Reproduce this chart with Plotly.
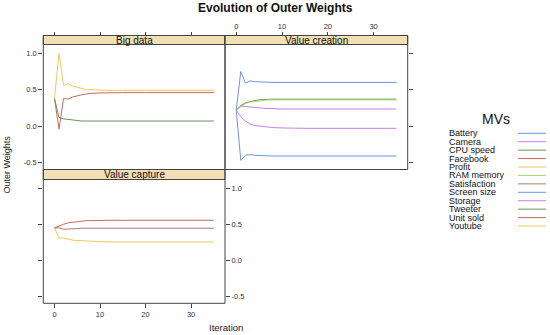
import plotly.graph_objects as go

# ---------------- data ----------------
iterations = [0, 1, 2, 3, 4, 5, 6, 7, 8, 10, 12, 15, 20, 25, 30, 35]

mv_names = ["Battery", "Camera", "CPU speed", "Facebook", "Profit", "RAM memory",
            "Satisfaction", "Screen size", "Storage", "Tweeter", "Unit sold", "Youtube"]
mv_blocks = ["Value creation", "Value creation", "Value creation", "Big data",
             "Value capture", "Value creation", "Value capture", "Value creation",
             "Value creation", "Big data", "Value capture", "Big data"]

battery      = [0.22, 0.75, 0.59, 0.62, 0.61, 0.605, 0.60, 0.60, 0.60, 0.60, 0.60, 0.60, 0.60, 0.60, 0.60, 0.60]
camera       = [0.22, 0.275, 0.27, 0.26, 0.255, 0.25, 0.245, 0.24, 0.24, 0.235, 0.235, 0.235, 0.235, 0.235, 0.235, 0.235]
cpu_speed    = [0.22, 0.28, 0.32, 0.34, 0.35, 0.36, 0.365, 0.37, 0.37, 0.37, 0.37, 0.37, 0.37, 0.37, 0.37, 0.37]
facebook     = [0.38, -0.04, 0.38, 0.37, 0.40, 0.42, 0.43, 0.44, 0.45, 0.455, 0.46, 0.46, 0.46, 0.46, 0.46, 0.46]
profit       = [0.45, 0.31, 0.31, 0.29, 0.28, 0.275, 0.27, 0.265, 0.26, 0.26, 0.255, 0.255, 0.255, 0.255, 0.255, 0.255]
ram_memory   = [0.22, 0.27, 0.31, 0.33, 0.34, 0.35, 0.355, 0.36, 0.36, 0.36, 0.36, 0.36, 0.36, 0.36, 0.36, 0.36]
satisfaction = [0.45, 0.45, 0.43, 0.43, 0.44, 0.44, 0.445, 0.445, 0.445, 0.445, 0.445, 0.445, 0.445, 0.445, 0.445, 0.445]
screen_size  = [0.22, -0.47, -0.40, -0.39, -0.40, -0.405, -0.41, -0.41, -0.41, -0.41, -0.41, -0.41, -0.41, -0.41, -0.41, -0.41]
storage      = [0.22, 0.13, 0.07, 0.03, 0.01, 0.0, -0.01, -0.015, -0.02, -0.025, -0.03, -0.03, -0.03, -0.03, -0.03, -0.03]
tweeter      = [0.38, 0.12, 0.10, 0.09, 0.08, 0.075, 0.07, 0.07, 0.07, 0.07, 0.07, 0.07, 0.07, 0.07, 0.07, 0.07]
unit_sold    = [0.45, 0.48, 0.50, 0.52, 0.53, 0.54, 0.545, 0.55, 0.55, 0.555, 0.555, 0.555, 0.555, 0.555, 0.555, 0.555]
youtube      = [0.38, 1.00, 0.56, 0.58, 0.55, 0.53, 0.51, 0.50, 0.50, 0.49, 0.49, 0.49, 0.49, 0.49, 0.49, 0.49]

weights = [battery, camera, cpu_speed, facebook, profit, ram_memory,
           satisfaction, screen_size, storage, tweeter, unit_sold, youtube]

x_ticks = [0, 10, 20, 30]
y_ticks = [-0.5, 0.0, 0.5, 1.0]
y_tick_text = ["-0.5", "0.0", "0.5", "1.0"]

palette = ["#6f92e8", "#c57eea", "#6d8f5a", "#c46c58", "#ecc95e", "#acd36e", "#a57b6c"]

# ---------------- layout geometry (pixels) ----------------
W, H = 550, 335
def px(v): return v / W
def py(v): return 1 - v / H

XL0, XL1, XR1 = 43.3, 225.0, 407.7
ST_TOP, P_TOP, P_MID, ST2_BOT, P_BOT = 35.5, 44.5, 169.5, 179.5, 303.3

xr = [-2.45, 37.45]
yr = [-0.595, 1.12]
FONT = "Liberation Sans, Arial, Helvetica, sans-serif"
AX_COL = "#444444"

panel_axes = {"Big data": ("x", "y"), "Value creation": ("x2", "y2"), "Value capture": ("x3", "y3")}

fig = go.Figure()
for i, (name, block, vals) in enumerate(zip(mv_names, mv_blocks, weights)):
    xa, ya = panel_axes[block]
    fig.add_trace(go.Scatter(x=iterations, y=vals, mode="lines", name=name,
                             xaxis=xa, yaxis=ya, showlegend=False,
                             line=dict(color=palette[i % len(palette)], width=1)))
# dummy trace so the right-hand y axis of the bottom panel is drawn
fig.add_trace(go.Scatter(x=[None], y=[None], xaxis="x3", yaxis="y4", showlegend=False, hoverinfo="skip"))

common = dict(showgrid=False, zeroline=False, showline=False, ticks="outside", ticklen=4,
              tickwidth=1, tickcolor=AX_COL, tickfont=dict(family=FONT, size=7.5, color="#333333"))
xcommon = dict(common, range=xr, tickvals=x_ticks)
ycommon = dict(common, range=yr, tickvals=y_ticks, ticktext=y_tick_text)

fig.update_layout(
    width=W, height=H, autosize=False,
    margin=dict(l=0, r=0, t=0, b=0),
    paper_bgcolor="white", plot_bgcolor="white",
    font=dict(family=FONT, color="#222222"),
    xaxis=dict(xcommon, domain=[px(XL0), px(XL1)], anchor="free", position=py(ST_TOP), side="top", showticklabels=False),
    yaxis=dict(ycommon, domain=[py(P_MID), py(P_TOP)], anchor="x", side="left"),
    xaxis2=dict(xcommon, domain=[px(XL1), px(XR1)], anchor="free", position=py(ST_TOP), side="top"),
    yaxis2=dict(ycommon, domain=[py(P_MID), py(P_TOP)], anchor="x2", side="right", showticklabels=False),
    xaxis3=dict(xcommon, domain=[px(XL0), px(XL1)], anchor="y3", side="bottom"),
    yaxis3=dict(ycommon, domain=[py(P_BOT), py(ST2_BOT)], anchor="x3", side="left", showticklabels=False),
    yaxis4=dict(ycommon, overlaying="y3", anchor="x3", side="right"),
)

shapes = []
annotations = []
strip_fill = "#f3dfb4"
panels = [("Big data", XL0, XL1, ST_TOP, P_TOP, P_MID),
          ("Value creation", XL1, XR1, ST_TOP, P_TOP, P_MID),
          ("Value capture", XL0, XL1, P_MID, ST2_BOT, P_BOT)]
for label, x0, x1, s0, s1, b in panels:
    shapes.append(dict(type="rect", xref="paper", yref="paper", x0=px(x0), x1=px(x1), y0=py(s1), y1=py(s0),
                       fillcolor=strip_fill, line=dict(color=AX_COL, width=1)))
    shapes.append(dict(type="rect", xref="paper", yref="paper", x0=px(x0), x1=px(x1), y0=py(b), y1=py(s0),
                       fillcolor="rgba(0,0,0,0)", line=dict(color=AX_COL, width=1)))
    annotations.append(dict(text=label, xref="paper", yref="paper", x=px((x0 + x1) / 2), y=py((s0 + s1) / 2),
                            showarrow=False, xanchor="center", yanchor="middle",
                            font=dict(family=FONT, size=10, color="#111111")))

# titles
annotations.append(dict(text="<b>Evolution of Outer Weights</b>", xref="paper", yref="paper",
                        x=px(275), y=py(8), showarrow=False, xanchor="center", yanchor="middle",
                        font=dict(family=FONT, size=12, color="#111111")))
annotations.append(dict(text="Iteration", xref="paper", yref="paper", x=px(225.5), y=py(327.5),
                        showarrow=False, xanchor="center", yanchor="middle",
                        font=dict(family=FONT, size=9.5, color="#222222")))
annotations.append(dict(text="Outer Weights", xref="paper", yref="paper", x=px(6.5), y=py(165),
                        showarrow=False, xanchor="center", yanchor="middle", textangle=-90,
                        font=dict(family=FONT, size=9, color="#222222")))

# legend (built from the MV list)
annotations.append(dict(text="MVs", xref="paper", yref="paper", x=px(496), y=py(119),
                        showarrow=False, xanchor="center", yanchor="middle",
                        font=dict(family=FONT, size=14, color="#111111")))
LEG_Y0, LEG_DY = 133.3, 8.43
for i, name in enumerate(mv_names):
    yy = LEG_Y0 + i * LEG_DY
    annotations.append(dict(text=name, xref="paper", yref="paper", x=px(446.5), y=py(yy),
                            showarrow=False, xanchor="left", yanchor="middle",
                            font=dict(family=FONT, size=9, color="#111111")))
    shapes.append(dict(type="line", xref="paper", yref="paper", x0=px(518), x1=px(546), y0=py(yy), y1=py(yy),
                       line=dict(color=palette[i % len(palette)], width=1)))

fig.update_layout(shapes=shapes, annotations=annotations)
fig.write_html("out.html", config={"displayModeBar": False, "staticPlot": True},
               post_script="document.body.style.margin='0';document.body.style.padding='0';")
